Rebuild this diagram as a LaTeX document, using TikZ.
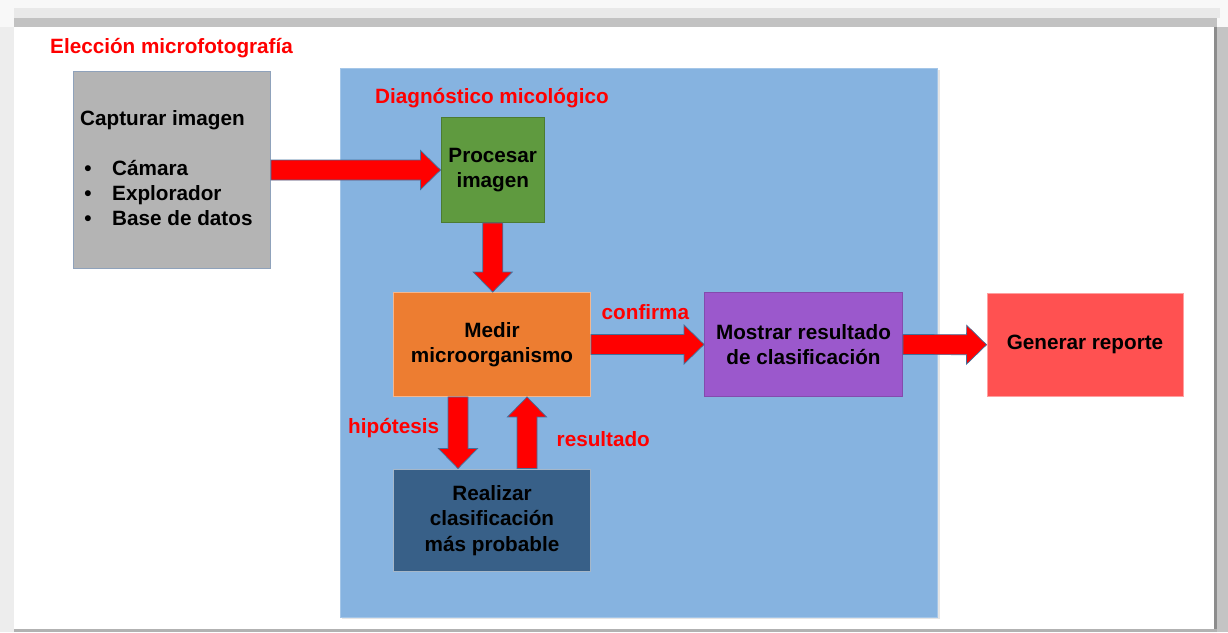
\documentclass[tikz,border=0pt]{standalone}
\usepackage{fontspec}
\setmainfont{Liberation Sans}
\usetikzlibrary{calc}

\definecolor{frameA}{HTML}{F8F8F8}
\definecolor{frameB}{HTML}{E9E9E9}
\definecolor{frameC}{HTML}{C2C2C2}
\definecolor{frameD}{HTML}{8C8C8C}
\definecolor{frameE}{HTML}{C4C4C4}
\definecolor{frameF}{HTML}{B2B2B2}
\definecolor{frameL}{HTML}{EDEDED}
\definecolor{capgray}{HTML}{B4B4B4}
\definecolor{capedge}{HTML}{8FA2BB}
\definecolor{diagblue}{HTML}{86B3E0}
\definecolor{procgreen}{HTML}{5F9A3F}
\definecolor{medorange}{HTML}{ED7D31}
\definecolor{showpurple}{HTML}{9B58CC}
\definecolor{reportred}{HTML}{FF5151}
\definecolor{classblue}{HTML}{386088}
\definecolor{arrowred}{HTML}{FF0000}
\definecolor{arrowedge}{HTML}{41719C}
\definecolor{labelred}{HTML}{FF0000}

\tikzset{
  txt/.style={font=\bfseries\fontsize{20.7}{25.5}\selectfont},
  box/.style={txt, draw=#1, line width=0.9pt, inner sep=2pt, align=center, text=black},
  redlabel/.style={txt, text=labelred, inner sep=0pt},
  blocktext/.style={txt, text=black, inner sep=0pt},
  blockarrow/.style={fill=arrowred, draw=arrowedge, line width=0.7pt, line join=miter},
}

% block arrow from node anchor #1 to node anchor #2
\newcommand\blockarrow[2]{%
  \coordinate (ba-h) at ($(#2)!20pt!(#1)$);
  \draw[blockarrow]
    ($(#1)!10pt!90:(#2)$) -- ($(ba-h)!10pt!90:(#2)$) -- ($(ba-h)!19.5pt!90:(#2)$) -- (#2)
    -- ($(ba-h)!19.5pt!-90:(#2)$) -- ($(ba-h)!10pt!-90:(#2)$) -- ($(#1)!10pt!-90:(#2)$) -- cycle;}

\begin{document}
\begin{tikzpicture}[x=1pt, y=-1pt]
  \useasboundingbox (0,0) rectangle (1228,632);

  % page frame
  \fill[frameA] (0,0) rectangle (1228,632);
  \fill[frameB] (14,8) rectangle (1220,18);
  \fill[frameC] (14,18) rectangle (1217,27);
  \fill[frameL] (0,27) rectangle (14,632);
  \fill[frameE] (1217,27) rectangle (1228,632);
  \fill[frameD] (1214,27) rectangle (1217,629);
  \fill[frameF] (14,629) rectangle (1217,632);
  \fill[white] (14,27) rectangle (1214,629);

  % diagnosis area
  \fill[black!10] (342,70) rectangle (939.5,619);
  \node[draw=diagblue!75!white, fill=diagblue, line width=0.9pt,
        minimum width=597pt, minimum height=549pt, inner sep=0pt] (diag) at (638.5,342.5) {};

  \node[redlabel, anchor=base west] (tsel) at (50,53) {Elección microfotografía};
  \node[redlabel, anchor=base west] (tdiag) at (375,103) {Diagnóstico micológico};

  % capture box
  \node[box=capedge, fill=capgray, minimum width=197pt, minimum height=197pt] (cap) at (172,170) {};
  \node[blocktext, anchor=base west] (capt) at (80,125) {Capturar imagen};
  \node[blocktext, anchor=base] (b1) at (88,175) {•};
  \node[blocktext, anchor=base] (b2) at (88,200) {•};
  \node[blocktext, anchor=base] (b3) at (88,225) {•};
  \node[blocktext, anchor=base west] (c1) at (112,175) {Cámara};
  \node[blocktext, anchor=base west] (c2) at (112,200) {Explorador};
  \node[blocktext, anchor=base west] (c3) at (112,225) {Base de datos};

  % process boxes
  \node[box=procgreen!80!black, fill=procgreen, minimum width=103.5pt, minimum height=105pt] (proc) at (492.75,170) {Procesar\\imagen};
  \node[box=medorange!55!white, fill=medorange, minimum width=197pt, minimum height=104pt] (medir) at (492,344.5) {Medir\\microorganismo};
  \node[box=showpurple!85!black, fill=showpurple, minimum width=198pt, minimum height=104pt] (show) at (803.5,344.5) {Mostrar resultado\\de clasificación};
  \node[box=reportred!55!white, fill=reportred, minimum width=196pt, minimum height=103.5pt] (rep) at (1085,344.75) {Generar reporte};
  \node[box=classblue!45!white, fill=classblue, minimum width=197pt, minimum height=102.5pt] (real) at (492,520.25) {Realizar\\clasificación\\más probable};

  % connectors
  \blockarrow{cap.east}{proc.west}
  \coordinate (pm) at (proc.south |- medir.north);
  \blockarrow{proc.south}{pm}
  \coordinate (hs) at ($(medir.south)+(-34,0)$);
  \coordinate (he) at ($(real.north)+(-34,0)$);
  \blockarrow{hs}{he}
  \coordinate (rs) at ($(real.north)+(35,0)$);
  \coordinate (re) at ($(medir.south)+(35,0)$);
  \blockarrow{rs}{re}
  \blockarrow{medir.east}{show.west}
  \blockarrow{show.east}{rep.west}

  % connector labels
  \node[redlabel, anchor=base west] (lconf) at (601.5,319.5) {confirma};
  \node[redlabel, anchor=base west] (lhip) at (348,433.5) {hipótesis};
  \node[redlabel, anchor=base west] (lres) at (556.5,446.5) {resultado};
\end{tikzpicture}
\end{document}
